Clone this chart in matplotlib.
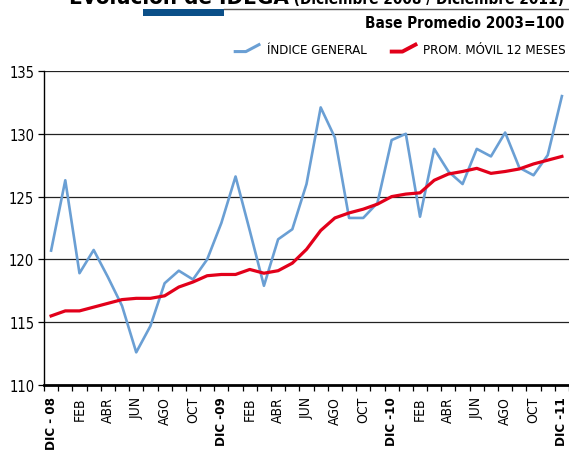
import matplotlib
matplotlib.use("Agg")
import matplotlib.pyplot as plt
from matplotlib import font_manager
from matplotlib.lines import Line2D
from matplotlib.legend_handler import HandlerLine2D
import numpy as np

# ---- data ----
months = ["DIC - 08", "ENE", "FEB", "MAR", "ABR", "MAY", "JUN", "JUL", "AGO", "SEP", "OCT", "NOV",
          "DIC -09", "ENE", "FEB", "MAR", "ABR", "MAY", "JUN", "JUL", "AGO", "SEP", "OCT", "NOV",
          "DIC -10", "ENE", "FEB", "MAR", "ABR", "MAY", "JUN", "JUL", "AGO", "SEP", "OCT", "NOV",
          "DIC -11"]
indice_general = [120.7, 126.3, 118.9, 120.75, 118.6, 116.3, 112.6, 114.7, 118.1, 119.1, 118.4, 120.0,
                  122.9, 126.6, 122.3, 117.9, 121.6, 122.4, 126.0, 132.1, 129.7, 123.3, 123.3, 124.5,
                  129.5, 130.0, 123.4, 128.8, 127.0, 126.0, 128.8, 128.2, 130.1, 127.3, 126.7, 128.3,
                  133.0]
prom_movil = [115.5, 115.9, 115.9, 116.2, 116.5, 116.8, 116.9, 116.9, 117.1, 117.8, 118.2, 118.7,
              118.8, 118.8, 119.2, 118.9, 119.1, 119.7, 120.8, 122.3, 123.3, 123.7, 124.0, 124.4,
              125.0, 125.2, 125.3, 126.3, 126.8, 127.0, 127.25, 126.85, 127.0, 127.2, 127.6, 127.9,
              128.2]
y_ticks = [110, 115, 120, 125, 130, 135]
series_names = ["ÍNDICE GENERAL", "PROM. MÓVIL 12 MESES"]
title_main = "Evolución de IDEGA"
title_sub = " (Diciembre 2008 / Diciembre 2011)"
subtitle = "Base Promedio 2003=100"

# ---- fonts ----
names = {f.name for f in font_manager.fontManager.ttflist}
if "Liberation Sans Narrow" in names:
    FAM = ["Liberation Sans Narrow", "DejaVu Sans"]
    STRETCH = "normal"
else:
    FAM = ["DejaVu Sans"]
    STRETCH = "condensed"
plt.rcParams["font.family"] = FAM
plt.rcParams["font.stretch"] = STRETCH

W, H = 569, 452
fig = plt.figure(figsize=(W / 100, H / 100), dpi=100)
ax = fig.add_axes([44 / W, 1 - 386 / H, (569 - 44) / W, (386 - 72) / H])

x = np.arange(len(months))
blue = "#6a9fd4"
red = "#e2001a"
ax.plot(x, indice_general, color=blue, lw=1.9, zorder=3)
ax.plot(x, prom_movil, color=red, lw=2.3, zorder=4)

ax.set_xlim(-0.5, len(months) - 0.5)
ax.set_ylim(110, 135)
ax.set_yticks(y_ticks)
ax.set_yticklabels([str(v) for v in y_ticks], fontsize=10.5)
for v in y_ticks[1:]:
    ax.axhline(v, color="#222222", lw=0.9, zorder=1)

# x ticks: labels every two months, tick marks between categories
lab_pos = x[::2]
ax.set_xticks(lab_pos)
ax.set_xticklabels([months[i] for i in lab_pos], rotation=90, fontsize=10)
for i, t in zip(lab_pos, ax.get_xticklabels()):
    if months[i].startswith("DIC"):
        t.set_fontweight("bold")
        t.set_fontsize(9.5)
ax.tick_params(axis="x", which="major", length=0, pad=8)
ax.set_xticks(np.arange(-0.5, len(months), 1.0), minor=True)
ax.tick_params(axis="x", which="minor", length=4, width=0.9, direction="out")
ax.tick_params(axis="y", length=4, width=0.9, direction="out", pad=3)

for s in ["top", "right"]:
    ax.spines[s].set_visible(False)
ax.spines["left"].set_linewidth(1.0)
ax.spines["bottom"].set_linewidth(2.0)


# ---- legend with bent handles ----
class BentHandler(HandlerLine2D):
    def create_artists(self, legend, orig_handle, xdescent, ydescent, width, height, fontsize, trans):
        xs = [-xdescent, -xdescent + width * 0.45, -xdescent + width]
        ys = [-ydescent + height * 0.1, -ydescent + height * 0.1, -ydescent + height * 0.85]
        ln = Line2D(xs, ys, color=orig_handle.get_color(), lw=orig_handle.get_linewidth())
        ln.set_transform(trans)
        return [ln]


handles = [Line2D([], [], color=blue, lw=2.2), Line2D([], [], color=red, lw=2.8)]
fig.legend(handles, series_names, loc="center right", bbox_to_anchor=(566 / W, 1 - 50 / H),
           ncol=2, frameon=False, fontsize=9.5, handlelength=1.8, handletextpad=0.6,
           columnspacing=1.9, borderaxespad=0, borderpad=0,
           handler_map={Line2D: BentHandler()})

# ---- header ----
t1 = fig.text(564 / W, 1 - 4 / H, title_sub, ha="right", va="baseline", fontsize=11, fontweight="bold")
fig.canvas.draw()
bb = t1.get_window_extent()
fig.text(bb.x0 / W, 1 - 4 / H, title_main, ha="right", va="baseline", fontsize=16, fontweight="bold")
fig.add_artist(plt.Rectangle((143 / W, 1 - 17 / H), 81 / W, 7 / H, transform=fig.transFigure,
                             color="#0b4f88", lw=0))
fig.add_artist(Line2D([224 / W, 1.0], [1 - 10 / H, 1 - 10 / H], transform=fig.transFigure,
                      color="#555555", lw=1.0))
fig.text(564 / W, 1 - 28 / H, subtitle, ha="right", va="baseline", fontsize=11, fontweight="bold")

fig.savefig("out.png", dpi=100)
